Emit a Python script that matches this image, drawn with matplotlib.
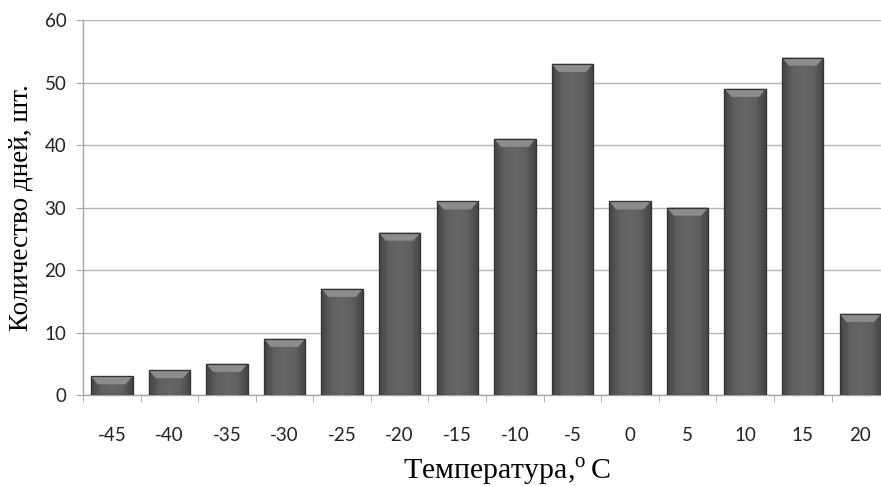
import matplotlib
matplotlib.use("Agg")
import matplotlib.pyplot as plt
from matplotlib.colors import LinearSegmentedColormap
from matplotlib.patches import Polygon
import numpy as np

plt.rcParams.update({
    "font.family": ["Lato", "DejaVu Sans"],
    "mathtext.fontset": "custom",
    "mathtext.rm": "Liberation Serif",
})

TEMPS = ["-45", "-40", "-35", "-30", "-25", "-20", "-15", "-10", "-5", "0", "5", "10", "15", "20"]
DAYS = [3, 4, 5, 9, 17, 26, 31, 41, 53, 31, 30, 49, 54, 13]

fig = plt.figure(figsize=(8.81, 4.86), dpi=100)
ax = fig.add_axes([0.0942, 0.1872, 0.915, 0.7716])

x = np.arange(len(TEMPS))
bars = ax.bar(x, DAYS, width=0.72, color="#5c5c5c", edgecolor="#3a3a3a",
              linewidth=0.8, zorder=3)

# horizontal shading across each bar, darker at the sides
shade = LinearSegmentedColormap.from_list(
    "shade", ["#444444", "#606060", "#666666", "#606060", "#444444"])
grad = np.linspace(0, 1, 64).reshape(1, -1)
bevel_h = 1.3
for b in bars:
    x0, w, h = b.get_x(), b.get_width(), b.get_height()
    im = ax.imshow(grad, cmap=shade, aspect="auto", extent=(x0, x0 + w, 0, h),
                   zorder=3.5, interpolation="bicubic")
    im.set_clip_path(b)
    # light bevel along the top edge
    top = Polygon([(x0, h), (x0 + w, h), (x0 + w - 0.12, h - bevel_h),
                   (x0 + 0.12, h - bevel_h)], closed=True,
                  facecolor="#8c8c8c", edgecolor="none", zorder=4)
    ax.add_patch(top)
    ax.add_patch(plt.Rectangle((x0, 0), w, h, fill=False, edgecolor="#333333",
                               linewidth=0.9, zorder=4.5))

ax.set_xlim(-0.5, len(TEMPS) - 0.5)
ax.set_ylim(0, 60)
ax.set_yticks(range(0, 61, 10))
ax.set_xticks(x)
ax.set_xticklabels(TEMPS)
ax.set_xticks(np.arange(-0.5, len(TEMPS), 1), minor=True)

ax.grid(axis="y", color="#b4b4b4", lw=1.0, zorder=0)
for s in ("top", "right"):
    ax.spines[s].set_visible(False)
for s in ("left", "bottom"):
    ax.spines[s].set_color("#a6a6a6")
    ax.spines[s].set_linewidth(1.0)

ax.tick_params(axis="x", which="major", length=0, pad=23, labelsize=13.5,
               colors="#222222")
ax.tick_params(axis="x", which="minor", length=5, color="#a6a6a6")
ax.tick_params(axis="y", length=5, color="#a6a6a6", pad=7, labelsize=13.5,
               colors="#222222")

ax.set_ylabel("Количество дней, шт.", family="Liberation Serif", fontsize=19.5,
              labelpad=8)
ax.set_xlabel(r"Температура,$^{\mathrm{o}}\,$С", family="Liberation Serif",
              fontsize=21.5)
ax.xaxis.set_label_coords(0.526, -0.163)

fig.savefig("out.png", dpi=100)
